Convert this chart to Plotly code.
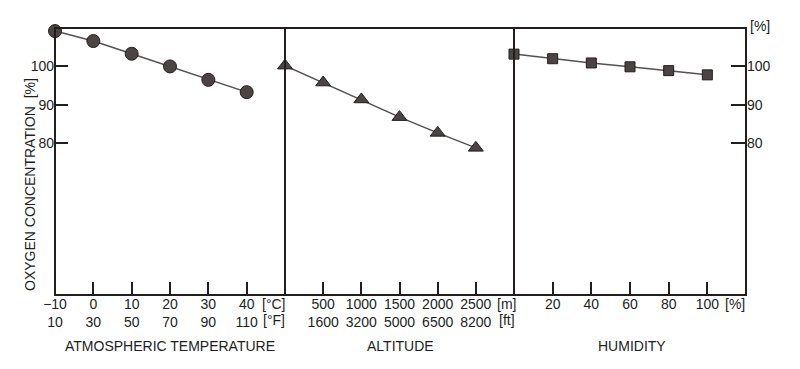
import plotly.graph_objects as go

# ---- data ----
temp_c = [-10, 0, 10, 20, 30, 40]
temp_o2 = [109.2, 106.6, 103.3, 100.0, 96.5, 93.3]
temp_tick_c = ["−10", "0", "10", "20", "30", "40"]
temp_tick_f = ["10", "30", "50", "70", "90", "110"]

alt_m = [0, 500, 1000, 1500, 2000, 2500]
alt_o2 = [100.2, 95.8, 91.4, 86.8, 82.7, 78.8]
alt_tick_vals = [500, 1000, 1500, 2000, 2500]
alt_tick_m = ["500", "1000", "1500", "2000", "2500"]
alt_tick_ft = ["1600", "3200", "5000", "6500", "8200"]

hum_pct = [0, 20, 40, 60, 80, 100]
hum_o2 = [103.2, 102.0, 100.9, 99.9, 98.9, 97.8]
hum_tick_vals = [20, 40, 60, 80, 100]
hum_tick = ["20", "40", "60", "80", "100"]

y_ticks = [80, 90, 100]

# ---- layout geometry ----
W, H = 800, 369
L, R, T, B = 55, 54, 28, 74
PW, PH = W - L - R, H - T - B
d1 = 230 / PW
d2 = 459 / PW

def px(x):
    return (x - L) / PW

def py(y):
    return (H - B - y) / PH

INK = "#221e1e"
LINE = "#555050"
MFILL = "#4a4444"
FONT = "Liberation Sans"
FS = 14

fig = go.Figure()
fig.add_trace(go.Scatter(x=temp_c, y=temp_o2, mode="lines+markers",
                         line=dict(color=LINE, width=1.5),
                         marker=dict(symbol="circle", size=13, color=MFILL,
                                     line=dict(color=INK, width=1)),
                         cliponaxis=False, xaxis="x", yaxis="y"))
fig.add_trace(go.Scatter(x=alt_m, y=alt_o2, mode="lines+markers",
                         line=dict(color=LINE, width=1.5),
                         marker=dict(symbol="triangle-up", size=13, color=MFILL,
                                     line=dict(color=INK, width=1)),
                         cliponaxis=False, xaxis="x2", yaxis="y2"))
fig.add_trace(go.Scatter(x=hum_pct, y=hum_o2, mode="lines+markers",
                         line=dict(color=LINE, width=1.5),
                         marker=dict(symbol="square", size=10, color=MFILL,
                                     line=dict(color=INK, width=1)),
                         cliponaxis=False, xaxis="x3", yaxis="y3"))

axfont = dict(family=FONT, size=FS, color=INK)
common_x = dict(showline=False, ticks="inside", ticklen=13, tickwidth=1.5, tickcolor=INK,
                showgrid=False, zeroline=False, tickfont=axfont, fixedrange=True,
                ticklabelstandoff=-1)
common_y = dict(showline=False, range=[40.5, 110], showgrid=False, zeroline=False,
                tickfont=axfont, fixedrange=True)

fig.update_layout(
    width=W, height=H,
    margin=dict(l=L, r=R, t=T, b=B),
    paper_bgcolor="white", plot_bgcolor="white",
    showlegend=False,
    xaxis=dict(domain=[0, d1], range=[-10, 50], tickmode="array", tickvals=temp_c,
               ticktext=[f"{c}<br>{f}" for c, f in zip(temp_tick_c, temp_tick_f)],
               anchor="y", **common_x),
    xaxis2=dict(domain=[d1, d2], range=[0, 3000], tickmode="array", tickvals=alt_tick_vals,
                ticktext=[f"{m}<br>{f}" for m, f in zip(alt_tick_m, alt_tick_ft)],
                anchor="y2", **common_x),
    xaxis3=dict(domain=[d2, 1], range=[0, 120], tickmode="array", tickvals=hum_tick_vals,
                ticktext=hum_tick, anchor="y3", **common_x),
    yaxis=dict(anchor="x", tickmode="array", tickvals=y_ticks, ticks="inside",
               ticklen=13, tickwidth=1.5, tickcolor=INK, side="left", **common_y),
    yaxis2=dict(anchor="x2", showticklabels=False, ticks="", **common_y),
    yaxis3=dict(anchor="x3", tickmode="array", tickvals=y_ticks, ticks="inside",
                ticklen=15, tickwidth=1.5, tickcolor=INK, side="right", **common_y),
)

# frame and panel dividers
fig.add_shape(type="rect", xref="paper", yref="paper", x0=0, x1=1, y0=0, y1=1,
              line=dict(color=INK, width=2), layer="above")
for d in (d1, d2):
    fig.add_shape(type="line", xref="paper", yref="paper", x0=d, x1=d, y0=0, y1=1,
                  line=dict(color=INK, width=2), layer="above")

def ann(text, x, y, **kw):
    fig.add_annotation(text=text, x=px(x), y=py(y), xref="paper", yref="paper",
                       xanchor="center", yanchor="middle", showarrow=False,
                       font=dict(family=FONT, size=FS, color=INK), **kw)

ann("[°C]", 274, 304)
ann("[°F]", 274, 320)
ann("[m]", 507, 304)
ann("[ft]", 507, 320)
ann("[%]", 735, 304)
ann("[%]", 760, 26)
ann("ATMOSPHERIC TEMPERATURE", 170, 346)
ann("ALTITUDE", 400, 346)
ann("HUMIDITY", 632, 346)
ann("OXYGEN CONCENTRATION  [%]", 30, 185, textangle=-90)

fig.write_html("out.html", config={"displayModeBar": False},
               post_script="document.body.style.margin='0';")
